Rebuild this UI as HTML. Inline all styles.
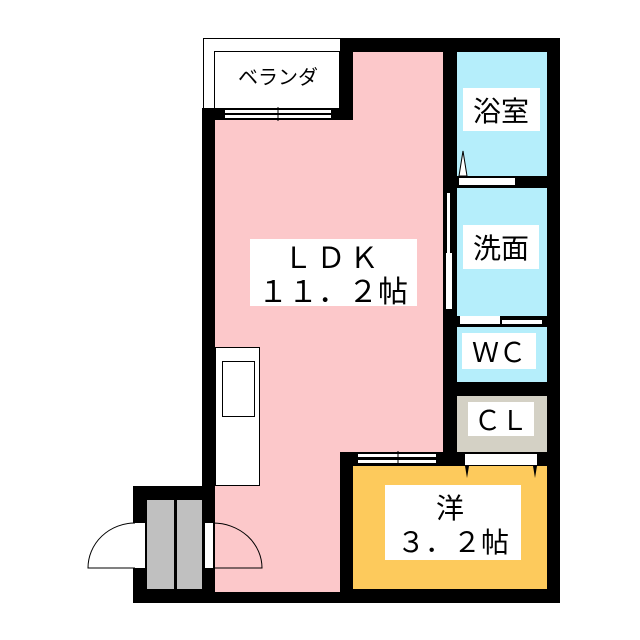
<!DOCTYPE html>
<html><head><style>body{margin:0;background:#fff}svg{display:block}text{font-family:"Liberation Sans","Noto Sans CJK JP",sans-serif;fill:#000}</style></head><body>
<svg width="640" height="640" viewBox="0 0 640 640">
<rect x="0" y="0" width="640" height="640" fill="#fff"/>
<rect x="340" y="38" width="220" height="565" fill="#000"/>
<rect x="202" y="108" width="151" height="392" fill="#000"/>
<rect x="133" y="486" width="220" height="117" fill="#000"/>
<rect x="215" y="120" width="125" height="366" fill="#fcc8ca"/>
<rect x="340" y="52" width="103" height="400" fill="#fcc8ca"/>
<rect x="250" y="486" width="90" height="14" fill="#fcc8ca"/>
<rect x="215" y="452" width="125" height="140" fill="#fcc8ca"/>
<rect x="215" y="500" width="125" height="89" fill="#fcc8ca"/>
<rect x="340" y="452" width="220" height="14" fill="#000"/>
<rect x="340" y="452" width="13" height="151" fill="#000"/>
<rect x="457" y="52" width="90" height="124" fill="#b5eefb"/>
<rect x="457" y="188" width="90" height="128" fill="#b5eefb"/>
<rect x="457" y="327" width="90" height="55" fill="#b5eefb"/>
<rect x="457" y="396" width="90" height="56" fill="#d4d1c5"/>
<rect x="353" y="466" width="194" height="123" fill="#fdca5c"/>
<rect x="147" y="500" width="55" height="89" fill="#c0c0c0"/>
<rect x="174" y="500" width="3" height="89" fill="#000"/>
<rect x="203.5" y="38.5" width="137" height="70" fill="#fff" stroke="#000"/>
<rect x="214.5" y="51.5" width="125" height="57" fill="#fff" stroke="#000"/>
<text x="278" y="84" font-size="20" text-anchor="middle">ベランダ</text>
<rect x="202" y="108" width="151" height="12" fill="#000"/>
<rect x="340" y="38" width="13" height="82" fill="#000"/>
<rect x="225" y="110" width="106" height="3" fill="#fff"/><rect x="225" y="115" width="106" height="3" fill="#fff"/>
<line x1="278" y1="107" x2="278" y2="121" stroke="#000"/>
<rect x="459" y="178" width="56" height="7" fill="#fff"/>
<polygon points="459,176 463,151 467,176" fill="#fff" stroke="#000"/>
<rect x="447" y="193" width="3" height="60" fill="#fff"/>
<rect x="446" y="253" width="6" height="56" fill="#fff"/>
<rect x="460" y="316" width="40" height="8" fill="#fff"/><rect x="502" y="320" width="40" height="4" fill="#fff"/>
<rect x="358" y="454" width="40" height="3" fill="#fff"/><rect x="358" y="460" width="78" height="3" fill="#fff"/>
<rect x="398" y="454" width="38" height="3" fill="#fff"/>
<line x1="398" y1="451" x2="398" y2="466" stroke="#000"/>
<rect x="465" y="454" width="72" height="11" fill="#fff"/>
<polygon points="465,466 467,478 469,466" fill="#000"/><polygon points="533,466 535,478 537,466" fill="#000"/>
<rect x="215.5" y="347.5" width="44" height="138" fill="#fff" stroke="#000"/>
<rect x="222.5" y="361.5" width="32" height="55" fill="#fff" stroke="#000"/>
<rect x="135" y="523" width="10" height="45" fill="#fff"/>
<path d="M135,568 L88,568 A47,45 0 0 1 135,523" fill="#fff" stroke="#000"/>
<rect x="205" y="523" width="8" height="45" fill="#fff"/>
<path d="M213,568 L262,568 A49,45 0 0 0 213,523" fill="none" stroke="#000"/>
<rect x="250" y="239" width="167" height="67" fill="#fff"/>
<text x="333" y="268" font-size="29" text-anchor="middle" letter-spacing="4">ＬＤＫ</text>
<text x="333" y="302" font-size="30" text-anchor="middle">１１．２帖</text>
<rect x="463" y="88" width="77" height="43" fill="#fff"/>
<text x="501" y="121" font-size="28" text-anchor="middle">浴室</text>
<rect x="463" y="225" width="76" height="44" fill="#fff"/>
<text x="501" y="258" font-size="28" text-anchor="middle">洗面</text>
<rect x="462" y="333" width="74" height="36" fill="#fff"/>
<text x="499" y="362" font-size="27" text-anchor="middle">ＷＣ</text>
<rect x="468" y="402" width="66" height="34" fill="#fff"/>
<text x="501" y="430" font-size="27" text-anchor="middle">ＣＬ</text>
<rect x="385" y="485" width="136" height="75" fill="#fff"/>
<text x="450" y="518" font-size="28" text-anchor="middle">洋</text>
<text x="453" y="552" font-size="28" text-anchor="middle">３．２帖</text>
</svg>
</body></html>
